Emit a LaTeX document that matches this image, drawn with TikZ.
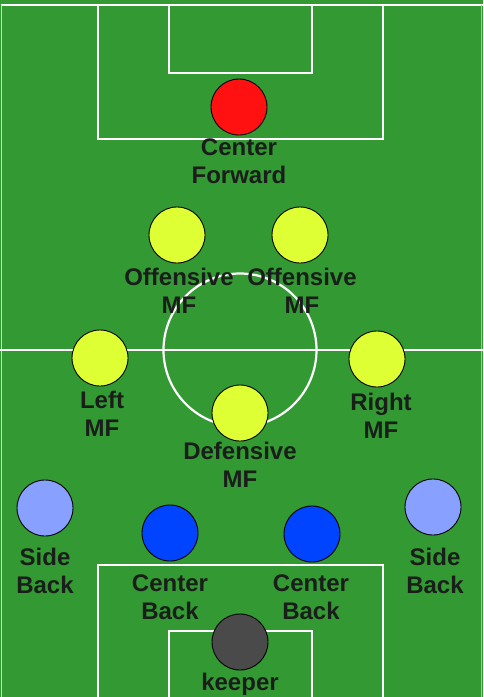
\documentclass[tikz,border=0pt]{standalone}
\usepackage{fontspec}
\setmainfont{Liberation Sans}
\definecolor{pitch}{RGB}{51,153,51}
\definecolor{fwd}{RGB}{255,17,17}
\definecolor{mid}{RGB}{221,255,51}
\definecolor{cback}{RGB}{0,68,255}
\definecolor{sback}{RGB}{136,160,255}
\definecolor{gk}{RGB}{74,74,74}
\definecolor{txt}{RGB}{26,30,26}
\tikzset{
  player/.style={circle, draw=black, line width=0.9pt, minimum size=56pt, inner sep=0pt},
  lbl/.style={font=\bfseries\fontsize{24pt}{28pt}\selectfont, text=txt, align=center, inner sep=0pt},
  fieldline/.style={draw=white, line width=2.2pt}
}
\begin{document}
\begin{tikzpicture}[x=1pt,y=-1pt]
\useasboundingbox (0,0) rectangle (483,697);
\fill[pitch] (0,0) rectangle (483,697);
% field outline
\draw[fieldline] (0.5,5) -- (482.5,5);
\draw[draw=white!70!pitch, line width=1pt] (1,5) -- (1,697);
\draw[draw=white!50!pitch, line width=1pt] (481.5,5) -- (481.5,697);
% top boxes
\draw[fieldline] (98,5) -- (98,139) -- (383,139) -- (383,5);
\draw[fieldline] (169,5) -- (169,73) -- (312,73) -- (312,5);
% halfway
\draw[fieldline] (0,350) -- (483,350);
\draw[fieldline] (240,350) circle[radius=76.5pt];
% bottom boxes
\draw[fieldline] (98,697) -- (98,565) -- (383,565) -- (383,697);
\draw[fieldline] (169,697) -- (169,631) -- (312,631) -- (312,697);
% players
\node[player, fill=fwd] (cf) at (239,107) {};
\node[player, fill=mid] (oml) at (177,235) {};
\node[player, fill=mid] (omr) at (300,235) {};
\node[player, fill=mid] (lm) at (100,358) {};
\node[player, fill=mid] (rm) at (377,359) {};
\node[player, fill=mid] (dm) at (240,413) {};
\node[player, fill=sback] (sbl) at (45,508) {};
\node[player, fill=sback] (sbr) at (433,507) {};
\node[player, fill=cback] (cbl) at (170,533) {};
\node[player, fill=cback] (cbr) at (312,534) {};
\node[player, fill=gk] (gk) at (240,642) {};
% labels
\node[lbl] (cfl) at (239,161) {Center\\Forward};
\node[lbl] (omll) at (179,291) {Offensive\\MF};
\node[lbl] (omrl) at (302,291) {Offensive\\MF};
\node[lbl] (lml) at (102,414) {Left\\MF};
\node[lbl] (rml) at (381,416) {Right\\MF};
\node[lbl] (dml) at (240,465) {Defensive\\MF};
\node[lbl] (sbll) at (45,571) {Side\\Back};
\node[lbl] (sbrl) at (435,571) {Side\\Back};
\node[lbl] (cbll) at (170,597) {Center\\Back};
\node[lbl] (cbrl) at (311,597) {Center\\Back};
\node[lbl, anchor=base] (gkl) at (240,690) {keeper};
\end{tikzpicture}
\end{document}
